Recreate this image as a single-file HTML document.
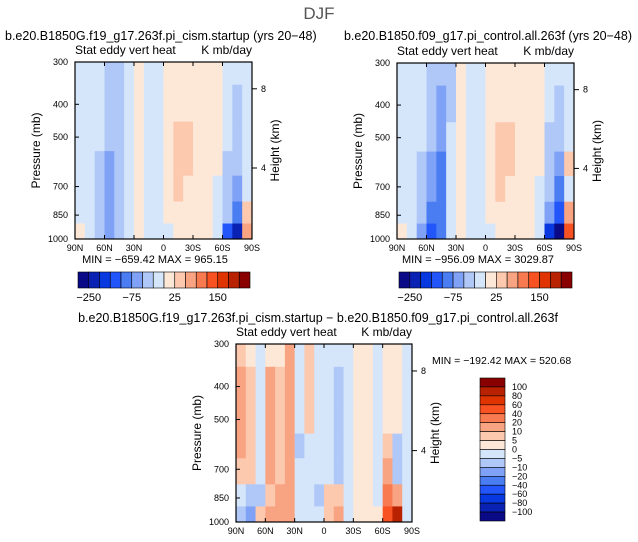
<!DOCTYPE html>
<html><head><meta charset="utf-8"><style>
body{margin:0;background:#fff}
svg{display:block;font-family:"Liberation Sans",sans-serif}
</style></head><body>
<svg id="s" width="638" height="542" viewBox="0 0 638 542">
<text x="319" y="19" text-anchor="middle" font-size="17" fill="#555">DJF</text>
</svg>
<script>
const latTicks=["90N","60N","30N","0","30S","60S","90S"];
const presTicks=[300,400,500,700,850,1000];
const pBounds=[300,350,450,550,650,775,900,1000];
const levelsA=[-250,-200,-150,-100,-75,-50,-25,0,25,50,75,100,150,200,250];
const levelsD=[-100,-80,-60,-40,-20,-10,-5,0,5,10,20,40,60,80,100];
const colors=["#0a0a86","#0a22b4","#0838e0","#2256fa","#4a7cf2","#80a2f6","#b0c8f8","#d6e6fa","#fde8d8","#fcc8ae","#f8a482","#f87a50","#f85222","#e03400","#b82200","#880000"];
const fieldA=[
[-10,-10,-10,-30,-30,-20,10,-10,-10,10,10,10,10,10,10,-10,-10,-10],
[-10,-10,-10,-30,-40,-20,10,-10,-10,10,15,10,10,10,10,-10,-30,-10],
[-10,-10,-20,-40,-40,-20,10,-10,-10,10,30,30,10,10,10,-20,-30,-10],
[-10,-10,-30,-60,-50,-20,10,-10,-10,10,30,30,10,10,10,-30,-50,-10],
[-10,-10,-30,-60,-50,-20,10,-10,-10,10,30,10,10,10,-10,-30,-60,-10],
[-10,-10,-40,-60,-40,-10,10,-10,-10,10,10,10,10,10,-10,-40,-80,30],
[10,-10,-40,-60,-30,-10,10,-10,-10,-10,10,10,10,10,-20,-150,-250,60]];
const fieldB=[
[-10,-10,-10,-30,-40,-30,10,-10,-10,10,10,10,10,10,10,-10,-10,-10],
[-10,-10,-20,-40,-60,-30,10,-10,-10,10,15,10,10,10,10,-10,-30,-10],
[-10,-10,-20,-50,-60,-20,10,-10,-10,10,30,30,10,10,10,-30,-40,-10],
[-10,-10,-30,-60,-80,-20,10,-10,-10,10,30,30,10,10,10,-40,-60,30],
[-10,-10,-30,-70,-80,-20,10,-10,-10,10,30,10,10,10,-10,-40,-80,-10],
[-10,-10,-40,-80,-80,-10,10,-10,-10,10,10,10,10,10,-10,-60,-110,60],
[10,-10,-60,-110,-80,-10,10,-10,-10,-10,10,10,10,10,-20,-200,-260,120]];
const fieldD=[
[7,4,-3,4,4,12,-3,7,-3,-3,-3,-3,3,3,-3,3,3,-3],
[12,7,-3,12,7,15,-3,7,-3,-3,-7,-3,3,3,-3,3,3,-3],
[12,7,-3,15,7,15,-3,7,-3,-3,-7,-3,3,3,-3,3,3,-3],
[12,7,-3,15,7,15,-7,-3,-3,-3,-7,-3,3,3,-3,7,-7,-3],
[7,7,-3,12,7,15,-3,-3,-3,-3,-7,-3,3,3,-3,12,-7,-3],
[-3,-7,-7,7,12,15,-3,-3,-7,7,7,-3,3,3,-3,25,12,-3],
[-7,-12,7,12,15,15,-3,-3,-3,7,12,-3,3,3,3,45,80,-3]];
const colA=["-250","-75","25","150"];
const colAIdx=[0,4,8,12];
const colD=["100","80","60","40","20","10","5","0","−5","−10","−20","−40","−60","−80","−100"];

const S=document.getElementById('s');
const NS="http://www.w3.org/2000/svg";
function el(tag,attrs,txt){const e=document.createElementNS(NS,tag);for(const k in attrs)e.setAttribute(k,attrs[k]);if(txt!==undefined)e.textContent=txt;S.appendChild(e);return e;}
function colorFor(v,lv){let i=0;while(i<lv.length&&v>=lv[i])i++;return colors[i];}

function panel(x0,x1,y0,y1,field,lv,name){
  const xs=i=>x0+(x1-x0)*i/18;
  const ys=p=>y0+(y1-y0)*Math.log(p/300)/Math.log(1000/300);
  for(let r=0;r<field.length;r++)for(let c=0;c<18;c++){
    const e=el('rect',{x:xs(c),y:ys(pBounds[r]),width:xs(c+1)-xs(c)+0.5,height:ys(pBounds[r+1])-ys(pBounds[r])+0.5,fill:colorFor(field[r][c],lv)});
    
    
  }
  el('rect',{x:x0,y:y0,width:x1-x0,height:y1-y0,fill:'none',stroke:'#000','stroke-width':1.2,});
  latTicks.forEach((t,i)=>{const x=x0+(x1-x0)*i/6;
    el('line',{x1:x,x2:x,y1:y1,y2:y1-4,stroke:'#000'});el('line',{x1:x,x2:x,y1:y0,y2:y0+4,stroke:'#000'});
    const e=el('text',{x:x,y:y1+12,'font-size':9,'text-anchor':'middle'},t);
    });
  presTicks.forEach(p=>{const y=ys(p);
    el('line',{x1:x0,x2:x0+4,y1:y,y2:y,stroke:'#000'});
    const e=el('text',{x:x0-7,y:y+3,'font-size':9,'text-anchor':'end'},p);
    });
  [[8,360],[4,617]].forEach(([h,p])=>{const y=ys(p);
    el('line',{x1:x1,x2:x1+5,y1:y,y2:y,stroke:'#000'});
    el('text',{x:x1+9,y:y+3,'font-size':9},h);});
  const ym=(y0+y1)/2;
  el('text',{x:x0-35,y:ym,'font-size':12,'text-anchor':'middle',transform:`rotate(-90 ${x0-35} ${ym})`,},'Pressure (mb)');
  el('text',{x:x1+27,y:ym,'font-size':12,'text-anchor':'middle',transform:`rotate(-90 ${x1+27} ${ym})`,},'Height (km)');
  el('text',{x:x0,y:y0-8,'font-size':12,},'Stat eddy vert heat');
  el('text',{x:x1,y:y0-8,'font-size':12,'text-anchor':'end',},'K mb/day');
}
function hbar(x0,x1,y0,y1){
  const w=(x1-x0)/16;
  colors.forEach((c,i)=>{const e=el('rect',{x:x0+i*w,y:y0,width:w,height:y1-y0,fill:c,stroke:'#000','stroke-width':0.6});
    });
  colA.forEach((t,i)=>{el('text',{x:x0+(colAIdx[i]+1)*w,y:y1+13,'font-size':11,'text-anchor':'middle',},t.replace('-','−'));});
}
panel(75,252,62,239,fieldA,levelsA,'panel-cism');
panel(397,574,63,239,fieldB,levelsA,'panel-control');
panel(236,412,344,522,fieldD,levelsD,'panel-diff');
el('text',{x:5,y:40,'font-size':12.5,},'b.e20.B1850G.f19_g17.263f.pi_cism.startup (yrs 20−48)');
el('text',{x:632,y:40,'font-size':12.5,'text-anchor':'end',},'b.e20.B1850.f09_g17.pi_control.all.263f (yrs 20−48)');
el('text',{x:318,y:322,'font-size':12.5,'text-anchor':'middle',},'b.e20.B1850G.f19_g17.263f.pi_cism.startup − b.e20.B1850.f09_g17.pi_control.all.263f');
el('text',{x:155,y:263,'font-size':11,'text-anchor':'middle',},'MIN = −659.42   MAX = 965.15');
el('text',{x:478,y:263,'font-size':11,'text-anchor':'middle',},'MIN = −956.09   MAX = 3029.87');
el('text',{x:432,y:364,'font-size':10.5,},'MIN = −192.42   MAX = 520.68');
hbar(78,250,272,288);
hbar(399,572,272,288);
const vx0=480,vx1=505,vy0=378,vy1=521,vh=(vy1-vy0)/16;
colors.slice().reverse().forEach((c,i)=>{const e=el('rect',{x:vx0,y:vy0+i*vh,width:vx1-vx0,height:vh,fill:c,stroke:'#000','stroke-width':0.6});
  });
colD.forEach((t,i)=>{el('text',{x:512,y:vy0+(i+1)*vh+3,'font-size':9,},t);});
</script>
</body></html>
